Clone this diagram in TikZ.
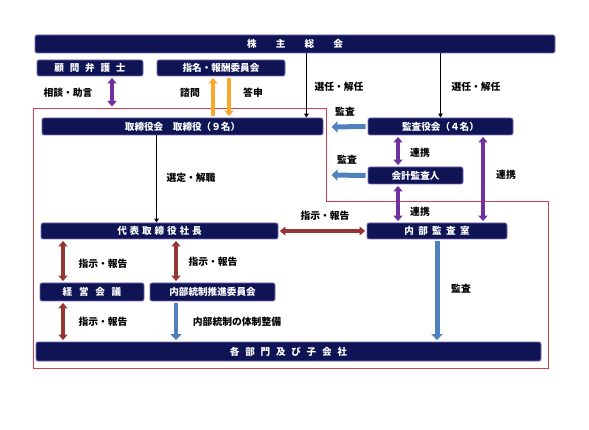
\documentclass[tikz,border=0pt]{standalone}
\usepackage{fontspec}
\usetikzlibrary{arrows.meta}
\newfontfamily\jpfont{Noto Sans CJK JP}
\newcommand{\gp}[1]{\hspace{#1em}}
\definecolor{navy}{HTML}{0E1454}
\definecolor{boxline}{HTML}{7B68B8}
\definecolor{framered}{HTML}{D2404F}
\definecolor{purplec}{HTML}{7030A0}
\definecolor{darkred}{HTML}{943634}
\definecolor{orangec}{HTML}{FBA72A}
\definecolor{bluec}{HTML}{4F81BD}

\begin{document}
\begin{tikzpicture}[x=1pt,y=-1pt,
    box/.style={draw=boxline, line width=0.8pt, fill=navy, rounded corners=2pt, text=white,
      font=\jpfont\bfseries\fontsize{9.6}{10}\selectfont, inner sep=0pt},
    lbl/.style={font=\jpfont\bfseries\fontsize{9.8}{10}\selectfont, text=black},
    twoway/.style={line width=3.2pt, {Triangle[length=5.5pt,width=9pt]}-{Triangle[length=5.5pt,width=9pt]},
      shorten <=1.5pt, shorten >=1.5pt},
    oneway/.style={line width=3.2pt, -{Triangle[length=5.5pt,width=9pt]}, shorten <=1.5pt, shorten >=1.5pt},
    bluearr/.style={bluec, line width=5pt, -{Triangle[length=6pt,width=11pt]}, shorten <=2pt, shorten >=1.5pt},
    elect/.style={line width=1.2pt, -{Triangle[length=4pt,width=4.5pt]}}]
    \useasboundingbox (0,0) rectangle (589,430);
    \draw[framered, line width=0.6pt] (33,108) -- (326,108) -- (326,201) -- (548,201) -- (548,368) -- (33,368) -- cycle;
    \node[box, minimum width=520pt, minimum height=18pt] (soukai) at (295,44) {株\gp{2}主\gp{2}総\gp{2}会};
    \node[box, minimum width=106pt, minimum height=16pt] (komon) at (90,68) {顧\gp{0.6}問\gp{0.6}弁\gp{0.6}護\gp{0.6}士};
    \node[box, minimum width=128pt, minimum height=16pt] (shimei) at (221,68) {指名・報酬委員会};
    \node[box, minimum width=281pt, minimum height=17pt] (torishimari) at (182.5,126.5) {取締役会\gp{1}取締役（９名）};
    \node[box, minimum width=145pt, minimum height=17pt] (kansayaku) at (440.5,126.5) {監査役会（４名）};
    \node[box, minimum width=95pt, minimum height=17pt] (kaikei) at (415.5,175.5) {会計監査人};
    \node[box, minimum width=237pt, minimum height=16pt] (daihyo) at (159.5,231) {代\gp{0.3}表\gp{0.3}取\gp{0.3}締\gp{0.3}役\gp{0.3}社\gp{0.3}長};
    \node[box, minimum width=140pt, minimum height=16pt] (naibu) at (437,231) {内\gp{0.45}部\gp{0.45}監\gp{0.45}査\gp{0.45}室};
    \node[box, minimum width=104pt, minimum height=18pt] (keiei) at (92,292) {経\gp{0.7}営\gp{0.7}会\gp{0.7}議};
    \node[box, minimum width=125pt, minimum height=18pt] (tosei) at (212.5,292) {内部統制推進委員会};
    \node[box, minimum width=505pt, minimum height=19pt] (kakubu) at (288.5,351.5) {各\gp{0.6}部\gp{0.6}門\gp{0.6}及\gp{0.6}び\gp{0.6}子\gp{0.6}会\gp{0.6}社};
    \coordinate (frametop) at (112,108);
    \coordinate (kansa1) at (330,127);
    \coordinate (kansa2) at (330,175);
    \draw[twoway, purplec] ([xshift=22pt]komon.south) -- (frametop);
    \node[lbl] (soudan) at (68,93) {相談・助言};
    \draw[oneway, orangec] ([xshift=-8pt]shimei.south |- torishimari.north) -- ([xshift=-8pt]shimei.south);
    \draw[oneway, orangec] ([xshift=8pt]shimei.south) -- ([xshift=8pt]shimei.south |- torishimari.north);
    \node[lbl] (shimon) at (190,93) {諮問};
    \node[lbl] (toushin) at (253,93) {答申};
    \draw[elect] ([xshift=-17pt]torishimari.north east |- soukai.south) -- ([xshift=-17pt]torishimari.north east);
    \node[lbl] (senin1) at (339,87) {選任・解任};
    \draw[elect] (kansayaku.north |- soukai.south) -- (kansayaku.north);
    \node[lbl] (senin2) at (476,87) {選任・解任};
    \draw[elect] ([xshift=-3pt]daihyo.north |- torishimari.south) -- ([xshift=-3pt]daihyo.north);
    \node[lbl] (sentei) at (191,178) {選定・解職};
    \draw[bluearr] (kansayaku.west) -- (kansa1);
    \node[lbl] (kansalbl1) at (345,112) {監査};
    \draw[bluearr] (kaikei.west) -- (kansa2);
    \node[lbl] (kansalbl2) at (347,160) {監査};
    \draw[twoway, purplec] (kansayaku.south -| 398,0) -- (kaikei.north -| 398,0);
    \node[lbl] (renkei1) at (420,153) {連携};
    \draw[twoway, purplec] (kaikei.south -| 398,0) -- (naibu.north -| 398,0);
    \node[lbl] (renkei2) at (420,212) {連携};
    \draw[twoway, purplec] (kansayaku.south -| 483,0) -- (naibu.north -| 483,0);
    \node[lbl] (renkei3) at (506,175) {連携};
    \draw[twoway, darkred] (daihyo.east) -- (naibu.west);
    \node[lbl] (shiji1) at (325,216) {指示・報告};
    \draw[bluearr] (naibu.south) -- (kakubu.north -| naibu.south);
    \node[lbl] (kansalbl3) at (461,289) {監査};
    \draw[twoway, darkred] (daihyo.south -| 63,0) -- (keiei.north -| 63,0);
    \node[lbl] (shiji2) at (103,264) {指示・報告};
    \draw[twoway, darkred] (daihyo.south -| 176,0) -- (tosei.north -| 176,0);
    \node[lbl] (shiji3) at (213,262) {指示・報告};
    \draw[twoway, darkred] (keiei.south -| 63,0) -- (kakubu.north -| 63,0);
    \node[lbl] (shiji4) at (103,322) {指示・報告};
    \draw[bluearr, line width=4pt] (tosei.south -| 176,0) -- (kakubu.north -| 176,0);
    \node[lbl] (seibi) at (237,322) {内部統制の体制整備};
\end{tikzpicture}
\end{document}
